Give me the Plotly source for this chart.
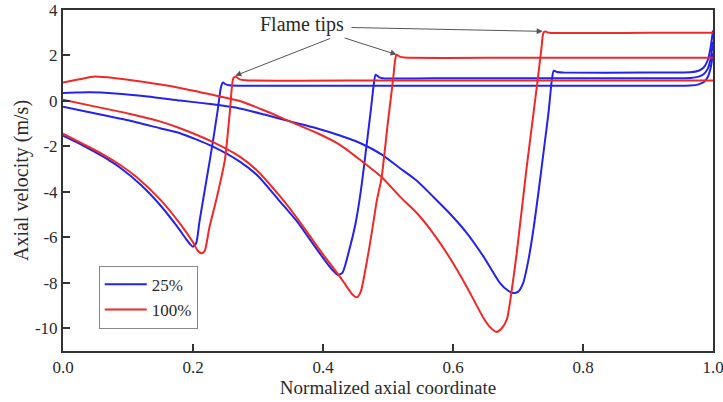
import plotly.graph_objects as go

# ---- data ----
b1_x = [0, 0.03, 0.06, 0.088, 0.12, 0.15, 0.175, 0.19, 0.196, 0.2, 0.205, 0.21, 0.22, 0.23, 0.238, 0.243, 0.246, 0.25, 0.256, 0.27, 0.5, 0.8, 0.965, 0.978, 0.986, 0.992, 0.996, 1.0]
b1_y = [-1.53, -1.95, -2.42, -2.94, -3.7, -4.6, -5.5, -6.1, -6.32, -6.41, -6.25, -5.3, -3.6, -1.9, -0.4, 0.6, 0.81, 0.74, 0.69, 0.67, 0.67, 0.67, 0.68, 0.73, 0.83, 1.05, 1.4, 2.1]

r1_x = [0, 0.03, 0.06, 0.088, 0.113, 0.15, 0.18, 0.2, 0.207, 0.213, 0.218, 0.225, 0.237, 0.249, 0.257, 0.262, 0.266, 0.272, 0.28, 0.5, 0.8, 1.0]
r1_y = [-1.44, -1.88, -2.33, -2.82, -3.35, -4.35, -5.4, -6.22, -6.58, -6.7, -6.6, -5.6, -4.2, -2.6, -0.39, 1.0, 1.06, 0.95, 0.91, 0.9, 0.9, 0.9]

b2_x = [0, 0.05, 0.1, 0.149, 0.18, 0.23, 0.272, 0.3, 0.334, 0.36, 0.38, 0.4, 0.415, 0.423, 0.43, 0.44, 0.45, 0.458, 0.466, 0.474, 0.478, 0.481, 0.486, 0.492, 0.6, 0.8, 0.965, 0.978, 0.986, 0.992, 0.996, 1.0]
b2_y = [-0.25, -0.55, -0.85, -1.2, -1.42, -2.0, -2.67, -3.3, -4.43, -5.3, -6.1, -6.9, -7.45, -7.66, -7.55, -6.6, -5.4, -4.0, -2.2, -0.3, 0.7, 1.15, 1.05, 1.0, 1.0, 1.0, 1.01, 1.07, 1.18, 1.42, 1.8, 2.6]

r2_x = [0, 0.05, 0.1, 0.149, 0.18, 0.23, 0.272, 0.3, 0.334, 0.36, 0.38, 0.4, 0.42, 0.435, 0.445, 0.452, 0.458, 0.466, 0.475, 0.483, 0.49, 0.5, 0.508, 0.511, 0.513, 0.518, 0.525, 0.7, 1.0]
r2_y = [0.05, -0.25, -0.55, -0.9, -1.2, -1.8, -2.45, -3.1, -4.2, -5.15, -5.95, -6.75, -7.5, -8.1, -8.5, -8.64, -8.4, -7.3, -5.8, -4.35, -3.4, -0.9, 1.0, 1.8, 2.03, 1.95, 1.91, 1.9, 1.9]

b3_x = [0, 0.02, 0.04, 0.08, 0.13, 0.18, 0.23, 0.272, 0.31, 0.349, 0.39, 0.426, 0.457, 0.49, 0.518, 0.544, 0.569, 0.595, 0.621, 0.647, 0.672, 0.685, 0.692, 0.7, 0.708, 0.716, 0.724, 0.732, 0.74, 0.747, 0.752, 0.755, 0.76, 0.77, 0.9, 0.965, 0.978, 0.986, 0.992, 0.996, 1.0]
b3_y = [0.35, 0.37, 0.38, 0.33, 0.2, 0.02, -0.15, -0.33, -0.6, -0.9, -1.2, -1.52, -1.85, -2.35, -2.95, -3.5, -4.2, -4.95, -5.8, -6.85, -8.0, -8.35, -8.45, -8.4, -8.0, -7.0, -5.6, -3.9, -2.1, -0.5, 0.9, 1.33, 1.27, 1.25, 1.25, 1.26, 1.33, 1.48, 1.8, 2.3, 3.1]

r3_x = [0, 0.025, 0.049, 0.08, 0.12, 0.18, 0.23, 0.272, 0.31, 0.349, 0.39, 0.426, 0.457, 0.492, 0.518, 0.545, 0.569, 0.595, 0.621, 0.646, 0.657, 0.667, 0.675, 0.683, 0.69, 0.698, 0.713, 0.729, 0.736, 0.739, 0.742, 0.748, 0.9, 1.0]
r3_y = [0.81, 0.95, 1.07, 1.0, 0.85, 0.57, 0.27, 0.0, -0.42, -0.9, -1.4, -1.93, -2.59, -3.4, -4.2, -4.95, -5.8, -6.9, -8.17, -9.5, -9.95, -10.16, -10.0, -9.6, -8.4, -6.7, -3.0, 0.63, 2.3, 2.99, 3.05, 3.0, 3.0, 3.0]

x_ticks = [0, 0.2, 0.4, 0.6, 0.8, 1.0]
x_labels = ["0.0", "0.2", "0.4", "0.6", "0.8", "1.0"]
y_ticks = [-10, -8, -6, -4, -2, 0, 2, 4]
y_labels = ["-10", "-8", "-6", "-4", "-2", "0", "2", "4"]

# arrows: head and tail points in data units
arrow_heads = [(0.265, 1.11), (0.513, 2.04), (0.738, 3.06)]
arrow_tails = [(0.413, 2.77), (0.431, 2.79), (0.4415, 3.23)]

BLUE = "rgb(35,35,235)"
RED = "rgb(240,40,40)"
FONT = "Liberation Serif"
TXT = "#2a2a2a"

fig = go.Figure()
series = [
    (b1_x, b1_y, BLUE, "25%", True),
    (b2_x, b2_y, BLUE, "25%", False),
    (b3_x, b3_y, BLUE, "25%", False),
    (r1_x, r1_y, RED, "100%", True),
    (r2_x, r2_y, RED, "100%", False),
    (r3_x, r3_y, RED, "100%", False),
]
for xs, ys, col, name, show in series:
    fig.add_trace(go.Scatter(x=xs, y=ys, mode="lines", name=name,
                             showlegend=show,
                             line=dict(color=col, width=2, shape="spline", smoothing=0.6)))

for (hx, hy), (tx, ty) in zip(arrow_heads, arrow_tails):
    fig.add_annotation(x=hx, y=hy, ax=tx, ay=ty, xref="x", yref="y", axref="x", ayref="y",
                       text="", showarrow=True, arrowhead=2, arrowsize=1.2, arrowwidth=1,
                       arrowcolor="#555", standoff=0)

fig.add_annotation(x=0.368, y=3.36, xref="x", yref="y", text="Flame tips", showarrow=False,
                   font=dict(family=FONT, size=20, color=TXT))

axis_common = dict(showline=True, linecolor="#333", linewidth=2, mirror=True, ticks="inside",
                   ticklen=7, tickwidth=2, tickcolor="#333", showgrid=False, zeroline=False,
                   automargin=False, ticklabeloverflow="allow",
                   tickfont=dict(family=FONT, size=17, color=TXT))

fig.update_layout(
    width=723, height=402,
    margin=dict(l=63, r=10, t=10, b=51),
    paper_bgcolor="white", plot_bgcolor="white",
    xaxis=dict(range=[0, 1], tickvals=x_ticks, ticktext=x_labels,
               title=dict(text="Normalized axial coordinate", font=dict(family=FONT, size=19, color=TXT), standoff=2),
               **axis_common),
    yaxis=dict(range=[-11, 4], tickvals=y_ticks, ticktext=y_labels,
               title=dict(text="Axial velocity (m/s)", font=dict(family=FONT, size=20, color=TXT), standoff=1),
               ticklabelstandoff=0, **axis_common),
    legend=dict(x=0.055, y=0.25, xanchor="left", yanchor="top", bgcolor="white",
                bordercolor="#888", borderwidth=1, font=dict(family=FONT, size=17, color=TXT),
                traceorder="normal", tracegroupgap=0, itemwidth=42),
    showlegend=True,
)

fig.write_html("out.html")
